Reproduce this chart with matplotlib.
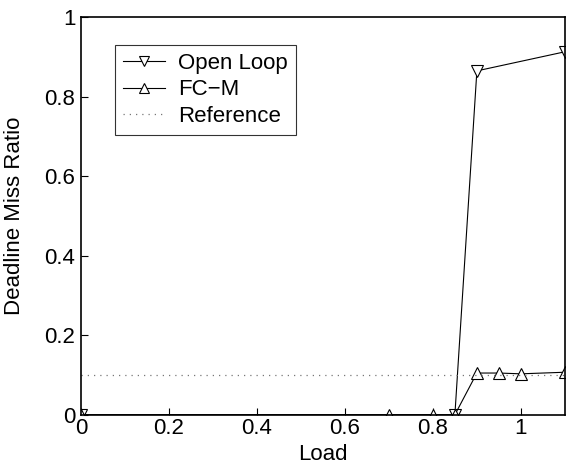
import matplotlib.pyplot as plt
import numpy as np

plt.rcParams['font.family'] = ['Liberation Sans', 'DejaVu Sans']

# data
load_open = [0, 0.85, 0.9, 1.1]
miss_open = [0, 0, 0.865, 0.913]
load_fcm = [0, 0.7, 0.8, 0.85, 0.9, 0.95, 1.0, 1.1]
miss_fcm = [0, 0, 0, 0, 0.105, 0.105, 0.103, 0.107]
ref_x = [0, 1.1]
ref_y = [0.1, 0.1]

fig = plt.figure(figsize=(5.66, 4.65), dpi=100)
ax = fig.add_axes([0.143, 0.108, 0.855, 0.855])

ax.plot(load_open, miss_open, color='k', lw=0.8, marker='v', ms=9,
        mfc='white', mec='k', mew=0.8, label='Open Loop')
ax.plot(load_fcm, miss_fcm, color='k', lw=0.8, marker='^', ms=9,
        mfc='white', mec='k', mew=0.8, label='FC\u2212M')
ax.plot(ref_x, ref_y, color='#777777', lw=0.9, ls=(0, (1, 4)), label='Reference')

ax.set_xlim(0, 1.1)
ax.set_ylim(0, 1)
ax.set_xticks([0, 0.2, 0.4, 0.6, 0.8, 1])
ax.set_xticklabels(['0', '0.2', '0.4', '0.6', '0.8', '1'])
ax.set_yticks([0, 0.2, 0.4, 0.6, 0.8, 1])
ax.set_yticklabels(['0', '0.2', '0.4', '0.6', '0.8', '1'])
ax.tick_params(direction='in', labelsize=16, length=5, width=0.8, pad=2)
ax.tick_params(axis='y', pad=4)
for s in ax.spines.values():
    s.set_linewidth(1.2)
ax.set_xlabel('Load', fontsize=16, labelpad=4)
ax.set_ylabel('Deadline Miss Ratio', fontsize=16, labelpad=14)

leg = ax.legend(loc='upper left', bbox_to_anchor=(0.07, 0.93), fontsize=16,
                frameon=True, fancybox=False, edgecolor='k', handlelength=1.9,
                borderpad=0.35, labelspacing=0.25, handletextpad=0.6,
                borderaxespad=0, markerscale=0.75)
leg.get_frame().set_linewidth(0.8)

fig.savefig('out.png', dpi=100)
